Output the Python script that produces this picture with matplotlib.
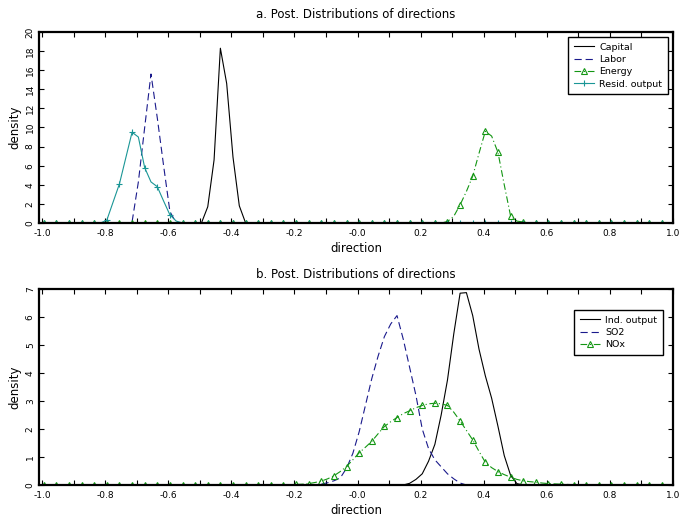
import numpy as np
import matplotlib
matplotlib.use("Agg")
import matplotlib.pyplot as plt
from matplotlib.ticker import MultipleLocator
from matplotlib.lines import Line2D
from matplotlib.legend_handler import HandlerLine2D

# direction grid (bin centres, step 0.02)
direction = np.round(np.arange(100) * 0.02 - 0.995, 3)

# panel a: non-zero stretch of each density, (first x, values)
capital_start = -0.495
capital = [0, 1.7, 6.6, 18.3, 14.6, 6.9, 1.8, 0]
labor_start = -0.735
labor = [0, 0.1, 4.3, 10.0, 15.6, 11.0, 6.0, 1.2, 0]
energy_start = 0.265
energy = [0, 0.15, 0.7, 1.9, 3.3, 4.9, 7.3, 9.6, 9.1, 7.4, 4.0, 0.75, 0.2, 0.1, 0]
resid_start = -0.815
resid = [0, 0.3, 2.2, 4.1, 6.8, 9.5, 9.0, 5.8, 4.3, 3.8, 2.3, 0.85, 0.2, 0]

# panel b
ind_start = 0.145
ind_output = [0, 0.06, 0.2, 0.4, 0.85, 1.45, 2.5, 3.75, 5.4, 6.85, 6.87, 6.05,
              4.85, 3.9, 3.1, 2.1, 1.05, 0.35, 0.05, 0]
so2_start = -0.135
so2 = [0, 0.03, 0.08, 0.15, 0.25, 0.6, 1.13, 1.9, 2.85, 3.8, 4.6, 5.3, 5.75, 6.05,
       5.2, 4.2, 3.2, 2.0, 1.3, 0.9, 0.65, 0.4, 0.22, 0.07, 0]
nox_start = -0.215
nox = [0, 0.02, 0.03, 0.05, 0.09, 0.14, 0.22, 0.33, 0.48, 0.66, 0.9, 1.15, 1.35,
       1.56, 1.83, 2.09, 2.26, 2.41, 2.55, 2.65, 2.76, 2.84, 2.9, 2.92, 2.9, 2.84,
       2.6, 2.29, 1.95, 1.61, 1.2, 0.81, 0.62, 0.48, 0.37, 0.28, 0.2, 0.15, 0.12,
       0.1, 0.07, 0.05, 0.04, 0.03, 0.02, 0.01, 0]


def full(start, vals):
    y = np.zeros(len(direction))
    i = int(np.argmin(np.abs(direction - start)))
    y[i:i + len(vals)] = vals
    return y


class LeftMarker(HandlerLine2D):
    # marker at the left end of the legend line, like the original
    def get_xdata(self, legend, xdescent, ydescent, width, height, fontsize):
        return [-xdescent, -xdescent + width], [-xdescent + 1.5]


def tick_fmt(v, pos):
    if abs(v) < 1e-9:
        return "-0.0"
    return f"{v:.1f}"


NAVY = "#1a1a8c"
GREEN = "#139613"
TEAL = "#1a9696"
dash_long = (0, (6.5, 3.5))
dash_dot = (0, (6, 2.5, 1, 2.5))

plt.rcParams["font.family"] = "DejaVu Sans"
fig = plt.figure(figsize=(6.82, 5.21), dpi=100)
ax1 = fig.add_axes([0.0572, 0.572, 0.9296, 0.3666])
ax2 = fig.add_axes([0.0572, 0.0691, 0.9296, 0.3762])

ax1.plot(direction, full(capital_start, capital), color="black", lw=0.8, label="Capital")
ax1.plot(direction, full(labor_start, labor), color=NAVY, lw=0.8, ls=dash_long, label="Labor")
ax1.plot(direction, full(energy_start, energy), color=GREEN, lw=0.8, ls=dash_dot,
         marker="^", ms=4, mfc="none", mew=0.8, markevery=2, label="Energy")
ax1.plot(direction, full(resid_start, resid), color=TEAL, lw=0.8,
         marker="+", ms=5, mew=0.8, markevery=2, label="Resid. output")
ax1.set_ylim(0, 20)
ax1.yaxis.set_major_locator(MultipleLocator(2))
ax1.set_title("a. Post. Distributions of directions", fontsize=8.5, pad=10)

ax2.plot(direction, full(ind_start, ind_output), color="black", lw=0.8, label="Ind. output")
ax2.plot(direction, full(so2_start, so2), color=NAVY, lw=0.8, ls=dash_long, label="SO2")
ax2.plot(direction, full(nox_start, nox), color=GREEN, lw=0.8, ls=dash_dot,
         marker="^", ms=4, mfc="none", mew=0.8, markevery=2, label="NOx")
ax2.set_ylim(0, 7)
ax2.yaxis.set_major_locator(MultipleLocator(1))
ax2.set_title("b. Post. Distributions of directions", fontsize=8.5, pad=8)

for ax, anchor in [(ax1, (0.992, 0.974)), (ax2, (0.984, 0.893))]:
    ax.set_xlim(-1.01, 1.0)
    ax.xaxis.set_major_locator(MultipleLocator(0.2))
    ax.xaxis.set_minor_locator(MultipleLocator(0.1))
    ax.xaxis.set_major_formatter(tick_fmt)
    ax.tick_params(which="both", direction="in", top=True, right=True,
                   length=3.5, width=0.8, labelsize=6.5)
    ax.tick_params(axis="x", pad=4)
    ax.tick_params(axis="y", labelrotation=90, pad=3)
    for lab in ax.get_yticklabels():
        lab.set_va("center")
    for s in ax.spines.values():
        s.set_linewidth(1.6)
    ax.set_xlabel("direction", fontsize=8.5, labelpad=3)
    ax.set_ylabel("density", fontsize=8.5, labelpad=3)
    leg = ax.legend(loc="upper right", bbox_to_anchor=anchor, borderaxespad=0,
                    fontsize=6.8, fancybox=False, framealpha=1, edgecolor="black",
                    handlelength=2.1, handletextpad=0.6, labelspacing=0.35,
                    borderpad=0.6, numpoints=1,
                    handler_map={Line2D: LeftMarker()})
    leg.get_frame().set_linewidth(1.0)

fig.savefig("out.png", dpi=100)
